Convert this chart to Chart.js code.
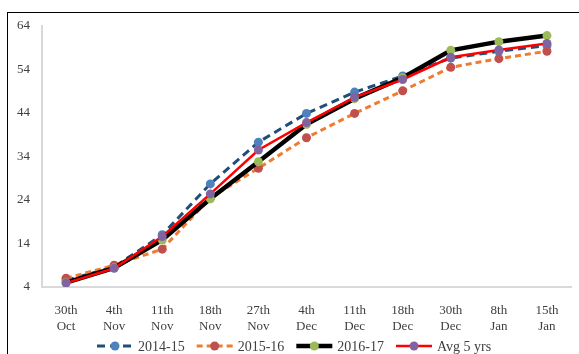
<!DOCTYPE html>
<html>
<head>
<meta charset="utf-8">
<script src="https://cdn.jsdelivr.net/npm/chart.js@4.4.1/dist/chart.umd.min.js"></script>
<style>
    html, body { margin: 0; padding: 0; background: #fff; }
    #wrap { position: relative; width: 579px; height: 354px; overflow: hidden; }
    #frame { position: absolute; left: 7px; top: 12px; width: 640px; height: 400px; border: 1.5px solid #000; box-sizing: border-box; }
    #chart { position: absolute; left: 0; top: 0; }
</style>
</head>
<body>
<div id="wrap">
    <div id="frame"></div>
    <canvas id="chart" width="579" height="354"></canvas>
</div>
<script>
// categories
const dates = [["30th", "Oct"], ["4th", "Nov"], ["11th", "Nov"], ["18th", "Nov"], ["27th", "Nov"],
    ["4th", "Dec"], ["11th", "Dec"], ["18th", "Dec"], ["30th", "Dec"], ["8th", "Jan"], ["15th", "Jan"]];

// series
const y2014 = [5.5, 8.6, 16.0, 27.7, 37.3, 43.9, 48.8, 52.5, 56.6, 58.2, 59.5];
const y2015 = [6.0, 9.0, 12.7, 24.5, 31.3, 38.3, 43.9, 49.1, 54.5, 56.5, 58.2];
const y2016 = [5.0, 8.4, 14.8, 24.3, 32.8, 41.4, 47.3, 52.1, 58.4, 60.4, 61.8];
const avg5 = [4.9, 8.3, 15.6, 25.4, 35.5, 41.8, 47.6, 51.7, 56.8, 58.5, 60.0];

const seriesNames = ["2014-15", "2015-16", "2016-17", "Avg 5 yrs"];

// y ticks
const yMin = 4, yMax = 64, yStep = 10;

const font = "'Liberation Serif', 'Times New Roman', serif";

// legend drawn in canvas: line sample + marker like the original
const legendPlugin = {
    id: 'bottomLegend',
    afterDraw(chart) {
        const ctx = chart.ctx;
        const y = 346;
        let x = 97;
        ctx.save();
        ctx.font = "14px " + font;
        ctx.textBaseline = 'middle';
        chart.data.datasets.forEach((ds) => {
            const w = 36;
            ctx.strokeStyle = ds.borderColor;
            ctx.lineWidth = ds.borderWidth;
            ctx.setLineDash(ds.borderDash || []);
            ctx.beginPath();
            ctx.moveTo(x, y);
            ctx.lineTo(x + w, y);
            ctx.stroke();
            ctx.setLineDash([]);
            ctx.fillStyle = ds.pointBackgroundColor;
            ctx.beginPath();
            ctx.arc(x + w / 2, y, 4.5, 0, Math.PI * 2);
            ctx.fill();
            ctx.fillStyle = '#404040';
            ctx.fillText(ds.label, x + w + 5, y + 1);
            x += w + 5 + ctx.measureText(ds.label).width + 12;
        });
        ctx.restore();
    }
};

const ctx = document.getElementById("chart").getContext("2d");
new Chart(ctx, {
    type: 'line',
    data: {
        labels: dates,
        datasets: [{
            label: seriesNames[0],
            data: y2014,
            borderColor: '#1F4E79',
            borderWidth: 3,
            borderDash: [8, 5],
            pointBackgroundColor: '#4F81BD',
            pointBorderColor: '#4F81BD',
            order: 4
        }, {
            label: seriesNames[1],
            data: y2015,
            borderColor: '#ED7D31',
            borderWidth: 3,
            borderDash: [6, 4],
            pointBackgroundColor: '#C0504D',
            pointBorderColor: '#C0504D',
            order: 3
        }, {
            label: seriesNames[2],
            data: y2016,
            borderColor: '#000000',
            borderWidth: 4.5,
            pointBackgroundColor: '#9BBB59',
            pointBorderColor: '#9BBB59',
            order: 2
        }, {
            label: seriesNames[3],
            data: avg5,
            borderColor: '#FF0000',
            borderWidth: 2.5,
            pointBackgroundColor: '#8064A2',
            pointBorderColor: '#8064A2',
            order: 1
        }]
    },
    options: {
        responsive: false,
        animation: false,
        devicePixelRatio: 1,
        elements: {
            line: { tension: 0 },
            point: { radius: 4.5, borderWidth: 0, hoverRadius: 4.5 }
        },
        datasets: { line: { pointBorderWidth: 0, pointRadius: 4.5 } },
        layout: { padding: { top: 26, right: 8, left: 0, bottom: 0 } },
        plugins: {
            legend: { display: false },
            tooltip: { enabled: false }
        },
        scales: {
            x: {
                offset: true,
                grid: { display: false },
                border: { color: '#d9d9d9', width: 2 },
                ticks: {
                    color: '#404040',
                    font: { family: font, size: 13 },
                    padding: 8,
                    maxRotation: 0,
                    autoSkip: false
                },
                afterFit(scale) { scale.height = 67; }
            },
            y: {
                min: yMin,
                max: yMax,
                grid: { display: false, drawTicks: false },
                border: { color: '#d9d9d9', width: 2 },
                ticks: {
                    stepSize: yStep,
                    color: '#404040',
                    font: { family: font, size: 13 },
                    padding: 12
                },
                afterFit(scale) { scale.width = 42; }
            }
        }
    },
    plugins: [legendPlugin]
});
</script>
</body>
</html>
